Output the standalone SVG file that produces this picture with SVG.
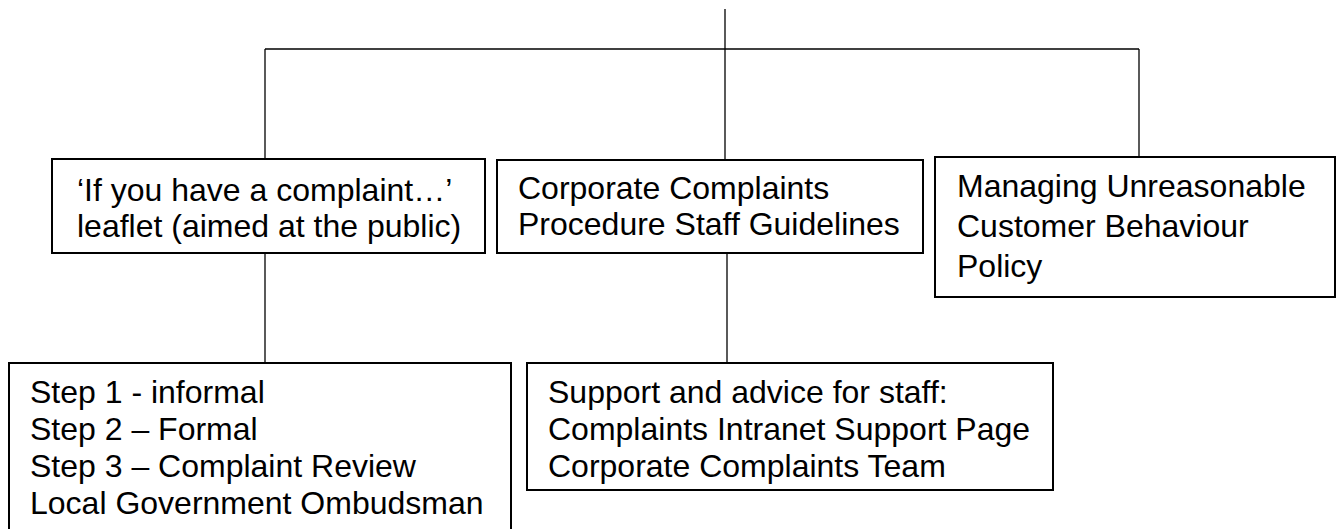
<svg xmlns="http://www.w3.org/2000/svg" width="1341" height="529" viewBox="0 0 1341 529">
  <style>
    .box { fill: #ffffff; stroke: #000000; stroke-width: 2; }
    .link { fill: none; stroke: #000000; stroke-width: 1.3; }
    .label { font-family: "Liberation Sans", Arial, sans-serif; font-size: 32px; fill: #000000; }
  </style>

  <g id="connectors">
    <path class="link" d="M725 9 V160"/>
    <path class="link" d="M265 49 H1139"/>
    <path class="link" d="M265 49 V159"/>
    <path class="link" d="M1139 49 V157"/>
    <path class="link" d="M265 253 V363"/>
    <path class="link" d="M727 253 V363"/>
  </g>

  <g id="node-leaflet">
    <rect class="box" x="52" y="159" width="433" height="94"/>
    <text class="label" x="77" y="201">‘If you have a complaint…’</text>
    <text class="label" x="77" y="237">leaflet (aimed at the public)</text>
  </g>

  <g id="node-guidelines">
    <rect class="box" x="497" y="160" width="426" height="93"/>
    <text class="label" x="518" y="199">Corporate Complaints</text>
    <text class="label" x="518" y="235">Procedure Staff Guidelines</text>
  </g>

  <g id="node-behaviour-policy">
    <rect class="box" x="935" y="157" width="400" height="140"/>
    <text class="label" x="957" y="197">Managing Unreasonable</text>
    <text class="label" x="957" y="237">Customer Behaviour</text>
    <text class="label" x="957" y="277">Policy</text>
  </g>

  <g id="node-steps">
    <path class="box" d="M9 530 V363 H511 V530"/>
    <text class="label" x="30" y="403">Step 1 - informal</text>
    <text class="label" x="30" y="440">Step 2 – Formal</text>
    <text class="label" x="30" y="477">Step 3 – Complaint Review</text>
    <text class="label" x="30" y="514">Local Government Ombudsman</text>
  </g>

  <g id="node-staff-support">
    <rect class="box" x="527" y="363" width="526" height="127"/>
    <text class="label" x="548" y="403">Support and advice for staff:</text>
    <text class="label" x="548" y="440">Complaints Intranet Support Page</text>
    <text class="label" x="548" y="477">Corporate Complaints Team</text>
  </g>
</svg>
